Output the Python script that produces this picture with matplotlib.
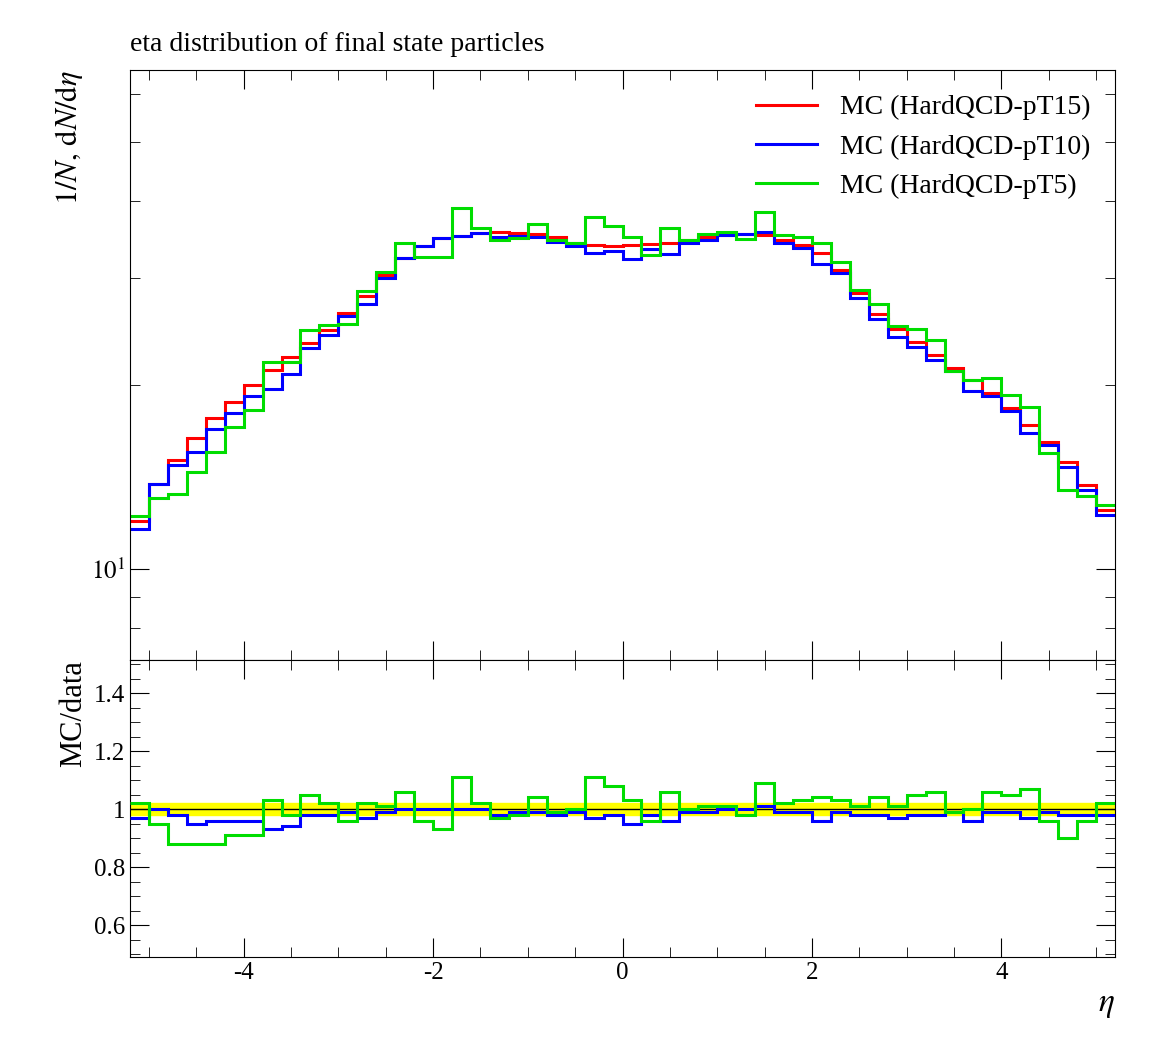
import numpy as np
import matplotlib
matplotlib.use("Agg")
import matplotlib.pyplot as plt
from matplotlib.ticker import LogLocator, NullFormatter, MultipleLocator

plt.rcParams['font.family'] = ['Liberation Serif', 'DejaVu Serif']
plt.rcParams['mathtext.fontset'] = 'stix'
plt.rcParams['axes.unicode_minus'] = False

edges = np.round(np.arange(-5.2, 5.2001, 0.2), 2)

# y pixel readings converted to values for reference (red) curve
red_px = [521, 484, 460, 438, 418, 402, 385, 370, 357, 343, 330, 313, 296, 275, 258, 246,
          238, 236, 233, 232, 233, 234, 237, 243, 245, 246, 245, 244, 243, 240, 237, 235,
          234, 235, 240, 245, 253, 270, 293, 314, 329, 342, 355, 368, 380, 393, 408, 425,
          442, 462, 485, 510]
red = 10 ** (1 + (569 - np.array(red_px)) / 611.0)

blue_ratio = [0.97, 1.0, 0.98, 0.95, 0.96, 0.96, 0.96, 0.93, 0.94, 0.98, 0.98, 0.99, 0.97,
              0.99, 1.0, 1.0, 1.0, 1.0, 1.0, 0.98, 0.99, 0.99, 0.98, 0.99, 0.97, 0.98, 0.95,
              0.98, 0.96, 0.99, 0.99, 1.0, 1.0, 1.01, 0.99, 0.99, 0.96, 0.99, 0.98, 0.98,
              0.97, 0.98, 0.98, 0.99, 0.96, 0.99, 0.99, 0.97, 0.99, 0.98, 0.98, 0.98]
green_ratio = [1.02, 0.95, 0.88, 0.88, 0.88, 0.91, 0.91, 1.03, 0.98, 1.05, 1.02, 0.96, 1.02,
               1.01, 1.06, 0.96, 0.93, 1.11, 1.02, 0.97, 0.98, 1.04, 0.99, 1.00, 1.11, 1.08,
               1.03, 0.96, 1.06, 1.00, 1.01, 1.01, 0.98, 1.09, 1.02, 1.03, 1.04, 1.03, 1.01,
               1.04, 1.01, 1.05, 1.06, 0.99, 1.00, 1.06, 1.05, 1.07, 0.96, 0.90, 0.96, 1.02]

blue = red * np.array(blue_ratio)
green = red * np.array(green_ratio)

series = [("MC (HardQCD-pT15)", red, np.ones(52), "#ff0000"),
          ("MC (HardQCD-pT10)", blue, np.array(blue_ratio), "#0000ff"),
          ("MC (HardQCD-pT5)", green, np.array(green_ratio), "#00dd00")]

fig = plt.figure(figsize=(11.53, 10.56), dpi=100)
ax = fig.add_axes([130/1153, 1-660/1056, 985/1153, 590/1056])
rx = fig.add_axes([130/1153, 1-957/1056, 985/1153, 297/1056], sharex=ax)

for label, vals, rat, col in series:
    ax.stairs(vals, edges, color=col, lw=2.2, label=label, baseline=None)
rx.fill_between([-5.2, 5.2], 0.98, 1.02, color="#ffff00", zorder=1)
rx.axhline(1.0, color="black", lw=1, zorder=2)
for label, vals, rat, col in series[1:]:
    rx.stairs(rat, edges, color=col, lw=2.2, zorder=3, baseline=None)

ax.set_yscale("log")
ax.set_ylim(7.1, 65.6)
ax.set_xlim(-5.2, 5.2)
ax.yaxis.set_minor_locator(LogLocator(subs=np.arange(2, 10)))
ax.yaxis.set_minor_formatter(NullFormatter())
ax.set_yticks([10])
ax.set_yticklabels([r"$10^{1}$"])
ax.tick_params(labelbottom=False)
ax.set_ylabel(r"$1/N,\,\mathrm{d}N/\mathrm{d}\eta$", fontsize=22, loc="top")
ax.set_title("eta distribution of final state particles", fontsize=20, loc="left", pad=14)
leg = ax.legend(loc="upper right", fontsize=20, frameon=False, handlelength=2.2)

rx.set_ylim(0.49, 1.514)
rx.set_yticks([0.6, 0.8, 1.0, 1.2, 1.4])
rx.set_yticklabels(["0.6", "0.8", "1", "1.2", "1.4"])
rx.yaxis.set_minor_locator(MultipleLocator(0.05))
rx.xaxis.set_major_locator(MultipleLocator(2))
rx.xaxis.set_minor_locator(MultipleLocator(0.5))
rx.set_ylabel("MC/data", fontsize=22, loc="top")
rx.set_xlabel(r"$\eta$", fontsize=24, loc="right")

for a in (ax, rx):
    a.tick_params(which="both", direction="in", top=True, right=True, labelsize=18)
    a.tick_params(which="major", length=14)
    a.tick_params(which="minor", length=7)

fig.savefig("out.png", dpi=100)
